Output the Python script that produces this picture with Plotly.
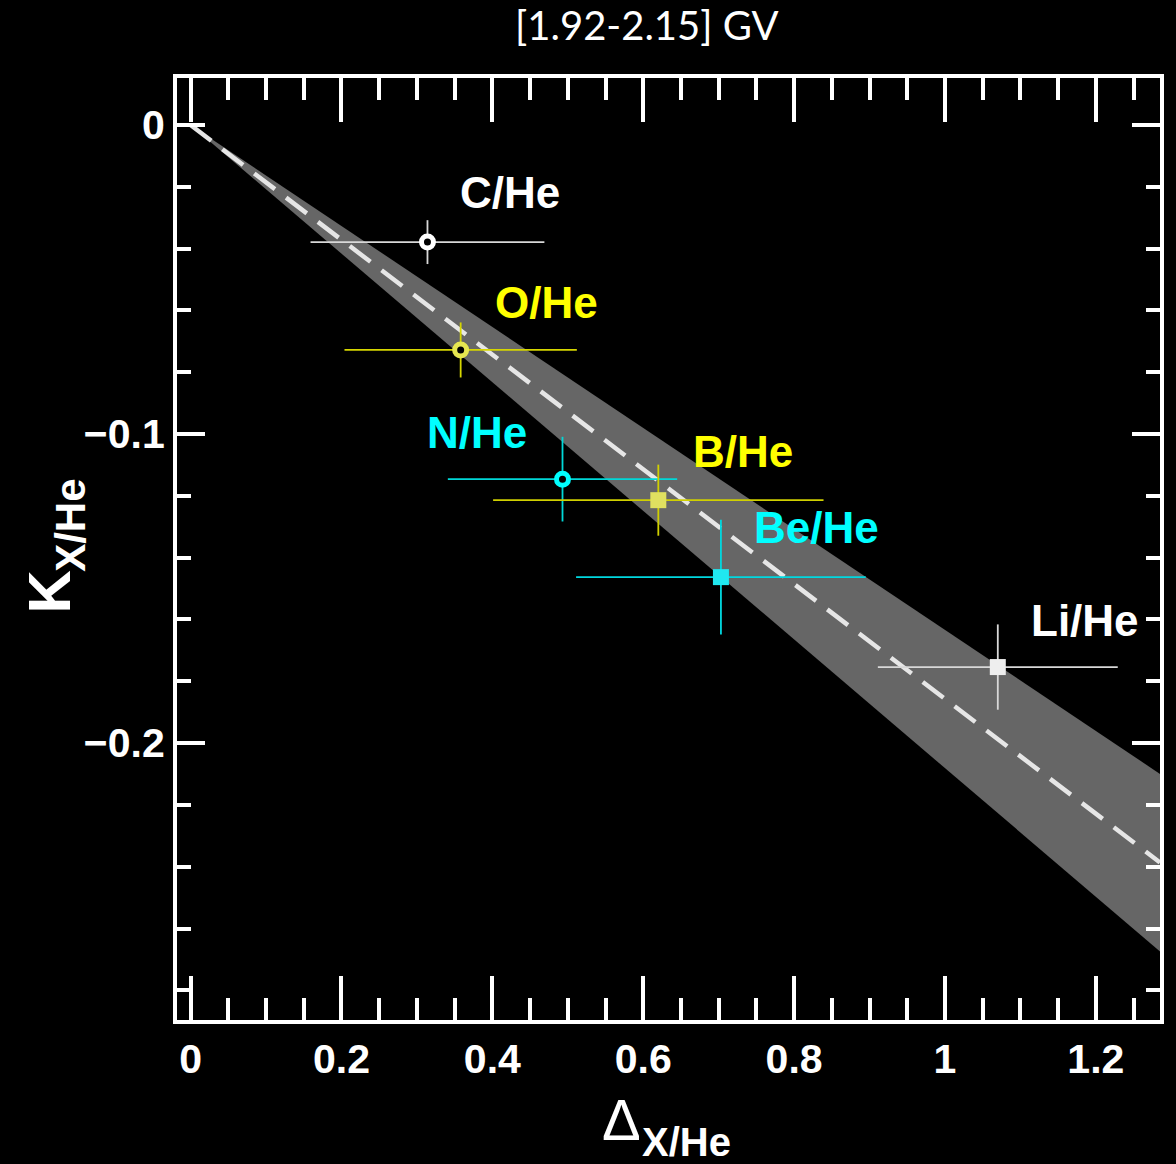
import numpy as np
import plotly.graph_objects as go

# ---------------- data ----------------
labels = ["C/He", "O/He", "N/He", "B/He", "Be/He", "Li/He"]
delta = [0.314, 0.358, 0.493, 0.620, 0.703, 1.070]
delta_err = [0.155, 0.154, 0.152, 0.219, 0.192, 0.159]
kappa = [-0.0379, -0.0728, -0.1146, -0.1214, -0.1463, -0.1754]
kappa_err = [0.0071, 0.0089, 0.0137, 0.0115, 0.0186, 0.0138]
hollow = [True, True, True, False, False, False]
marker_colors = ["#ffffff", "#e6e650", "#00ffff", "#e0e060", "#20e8f0", "#eeeeee"]
err_colors = ["#d8d8d8", "#d6d600", "#00d8d8", "#d0d000", "#00d8e0", "#d8d8d8"]
label_colors = ["#ffffff", "#ffff00", "#00ffff", "#ffff00", "#00ffff", "#ffffff"]
label_x = [0.424, 0.4716, 0.379, 0.732, 0.830, 1.185]
label_y = [-0.0220, -0.0573, -0.0994, -0.1058, -0.1304, -0.1602]

# linear fit through origin and its uncertainty band
fit_slope = -0.1857
fit_slope_hi = -0.1634
fit_slope_lo = -0.2081

x_range = [-0.018, 1.285]
y_range = [-0.2896, 0.0152]

title_text = "[1.92-2.15] GV"

# ---------------- figure ----------------
fig = go.Figure()

xf = np.array([0.0, x_range[1]])
fig.add_trace(go.Scatter(
    x=np.concatenate([xf, xf[::-1]]),
    y=np.concatenate([fit_slope_hi * xf, (fit_slope_lo * xf)[::-1]]),
    fill="toself", fillcolor="#666666", line=dict(width=0),
    mode="lines", hoverinfo="skip", showlegend=False))

fig.add_trace(go.Scatter(
    x=xf, y=fit_slope * xf, mode="lines",
    line=dict(color="#e6e6e6", width=4.5, dash="26px,14px"),
    hoverinfo="skip", showlegend=False))

for i, lab in enumerate(labels):
    if hollow[i]:
        mk = dict(symbol="circle", size=12, color="black",
                  line=dict(width=5, color=marker_colors[i]))
    else:
        mk = dict(symbol="square", size=16, color=marker_colors[i],
                  line=dict(width=0))
    fig.add_trace(go.Scatter(
        x=[delta[i]], y=[kappa[i]], mode="markers", name=lab,
        error_x=dict(type="data", array=[delta_err[i]], color=err_colors[i],
                     thickness=1.8, width=0),
        error_y=dict(type="data", array=[kappa_err[i]], color=err_colors[i],
                     thickness=1.8, width=0),
        marker=mk, showlegend=False))
    fig.add_annotation(x=label_x[i], y=label_y[i], text=lab, showarrow=False,
                       font=dict(family="Liberation Sans", size=44, color=label_colors[i],
                                 weight="bold"),
                       xanchor="center", yanchor="middle")

tickfont = dict(family="Liberation Sans", size=41, color="white", weight="bold")

fig.update_xaxes(
    range=x_range, showgrid=False, zeroline=False,
    showline=True, linecolor="white", linewidth=4, mirror="allticks",
    ticks="inside", ticklen=44, tickwidth=4, tickcolor="white",
    tick0=0, dtick=0.2, tickfont=tickfont,
    minor=dict(ticks="inside", ticklen=22, tickwidth=4, tickcolor="white",
               dtick=0.05, tick0=0, showgrid=False))
fig.update_yaxes(
    range=y_range, showgrid=False, zeroline=False,
    showline=True, linecolor="white", linewidth=4, mirror="allticks",
    ticks="inside", ticklen=28, tickwidth=4, tickcolor="white",
    tickvals=[0, -0.1, -0.2], ticktext=["0", "\u22120.1", "\u22120.2"],
    tickfont=tickfont,
    minor=dict(ticks="inside", ticklen=14, tickwidth=4, tickcolor="white",
               dtick=0.02, tick0=0, showgrid=False))

# axis titles
fig.add_annotation(xref="paper", yref="paper", x=0.452, y=-0.106, text="\u0394",
                   showarrow=False, font=dict(family="Liberation Sans", size=58, color="white"),
                   xanchor="center", yanchor="middle")
fig.add_annotation(xref="paper", yref="paper", x=0.518, y=-0.129, text="X/He",
                   showarrow=False, font=dict(family="Liberation Sans", size=40, color="white",
                                              weight="bold"),
                   xanchor="center", yanchor="middle")
fig.add_annotation(xref="paper", yref="paper", x=-0.13, y=0.454, text="K",
                   showarrow=False, textangle=-90,
                   font=dict(family="Liberation Sans", size=60, color="white", weight="bold"),
                   xanchor="center", yanchor="middle")
fig.add_annotation(xref="paper", yref="paper", x=-0.108, y=0.5255, text="X/He",
                   showarrow=False, textangle=-90,
                   font=dict(family="Liberation Sans", size=42, color="white", weight="bold"),
                   xanchor="center", yanchor="middle")

fig.update_layout(
    width=1176, height=1164,
    margin=dict(l=177, r=13, t=78, b=144),
    paper_bgcolor="black", plot_bgcolor="black",
    title=dict(text=title_text, x=0.55, xanchor="center", y=0.978, yanchor="middle",
               font=dict(family="Lato", size=40, color="white")),
)

fig.write_html("out.html", config={"displayModeBar": False},
               post_script="document.body.style.margin='0';document.body.style.background='black';")
